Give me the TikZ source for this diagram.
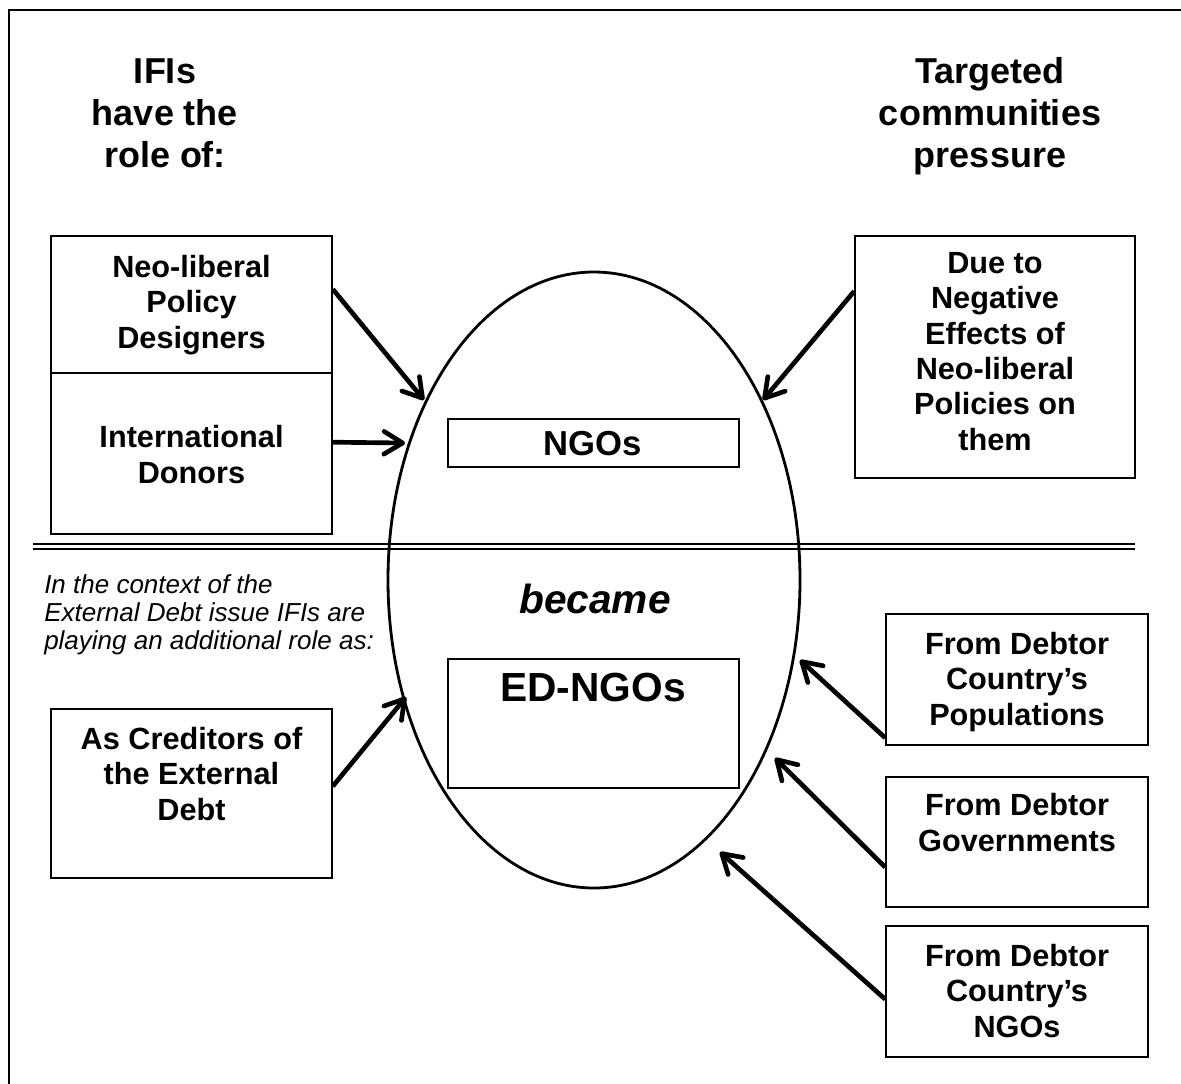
\documentclass[tikz,border=0pt]{standalone}
\usepackage{fontspec}
\setmainfont{Liberation Sans}
\usetikzlibrary{arrows.meta,fit,calc,shapes.geometric}
\begin{document}
\begin{tikzpicture}[x=0.75pt,y=-0.75pt,
  box/.style={draw, line width=1.2pt, inner sep=0pt},
  boxtext/.style={anchor=base, align=center, inner sep=0pt, font=\bfseries\fontsize{23}{26.5}\selectfont},
  titletext/.style={anchor=base, align=center, inner sep=0pt, font=\bfseries\fontsize{27}{31.5}\selectfont},
  arr/.style={line width=3.5pt, -{Straight Barb[length=14pt,width=17pt,round]}},
]
\useasboundingbox (0,0) rectangle (1181,1083);
% frame
\draw[line width=2.2pt] (9,1090) -- (9,10) -- (1190,10);
% ellipse
\node[draw, ellipse, line width=2.1pt, inner sep=0pt, minimum width=309pt, minimum height=462pt] (ell) at (594,580) {};
% double separator
\draw[line width=1.3pt] (33,544) -- (1135,544);
\draw[line width=1.3pt] (33,549) -- (1135,549);
% titles (base = last line)
\node[titletext] (t1) at (165,167) {IFIs\\have the\\role of:};
\node[titletext] (t2) at (990,167) {Targeted\\communities\\pressure};
% boxes
\node[box, fit={(51,236) (332,373)}] (boxA) {};
\node[box, fit={(51,373) (332,534)}] (boxB) {};
\node[box, fit={(448,419) (739,467)}] (ngos) {};
\node[box, fit={(448,659) (739,788)}] (ed) {};
\node[box, fit={(855,236) (1135,478)}] (due) {};
\node[box, fit={(51,709) (332,878)}] (cred) {};
\node[box, fit={(886,614) (1148,745)}] (pop) {};
\node[box, fit={(886,777) (1148,907)}] (gov) {};
\node[box, fit={(886,926) (1148,1057)}] (dngo) {};
% box texts (base = last line)
\node[boxtext] (tA) at (191.5,348) {Neo-liberal\\Policy\\Designers};
\node[boxtext] (tB) at (191.5,483) {International\\Donors};
\node[boxtext] (tDue) at (995,450) {Due to\\Negative\\Effects of\\Neo-liberal\\Policies on\\them};
\node[boxtext] (tC) at (191.5,820) {As Creditors of\\the External\\Debt};
\node[boxtext] (tP) at (1017,725) {From Debtor\\Country’s\\Populations};
\node[boxtext] (tG) at (1017,851) {From Debtor\\Governments};
\node[boxtext] (tN) at (1017,1037) {From Debtor\\Country’s\\NGOs};
\node[anchor=base, inner sep=0pt, font=\bfseries\fontsize{26}{30}\selectfont] (tngo) at (593,455) {NGOs};
\node[anchor=base, inner sep=0pt, font=\bfseries\itshape\fontsize{30.5}{35}\selectfont] (became) at (595,613) {became};
\node[anchor=base, inner sep=0pt, font=\bfseries\fontsize{30.5}{35}\selectfont] (ted) at (593,701) {ED-NGOs};
\node[anchor=base west, align=left, inner sep=0pt, font=\itshape\fontsize{19.5}{21}\selectfont] (ctx) at (44,649) {In the context of the\\External Debt issue IFIs are\\playing an additional role as:};
% arrow tips
\coordinate (hA) at (424,400);
\coordinate (hB) at (405,443);
\coordinate (hDue) at (763,400);
\coordinate (hC) at (406,697);
\coordinate (hP) at (800,660);
\coordinate (hG) at (775,758);
\coordinate (hN) at (720,852);
% arrows
\draw[arr] ($(boxA.north east)+(0,54)$) -- (hA);
\draw[arr] ($(boxB.north east)+(0,70)$) -- (hB);
\draw[arr] ($(due.north west)+(0,56)$) -- (hDue);
\draw[arr] ($(cred.north east)+(0,78)$) -- (hC);
\draw[arr] ($(pop.south west)+(0,-8)$) -- (hP);
\draw[arr] ($(gov.north west)+(0,91)$) -- (hG);
\draw[arr] ($(dngo.north west)+(0,74)$) -- (hN);
\end{tikzpicture}
\end{document}
